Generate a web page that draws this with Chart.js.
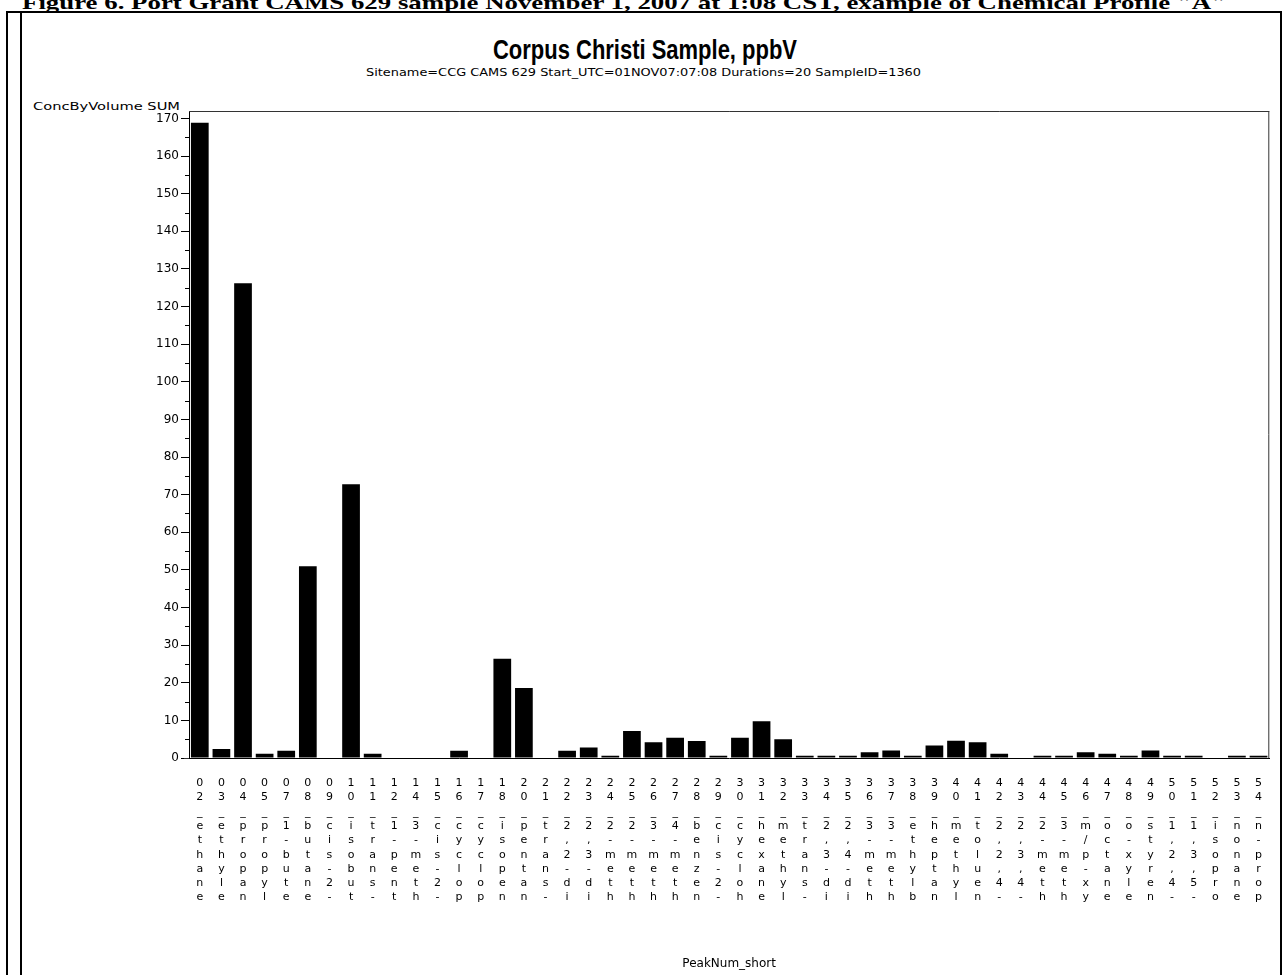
<!DOCTYPE html>
<html><head><meta charset="utf-8">
<script src="https://cdn.jsdelivr.net/npm/chart.js@4.4.0/dist/chart.umd.min.js"></script>
<style>
html,body{margin:0;padding:0;background:#fff;width:1283px;height:975px;overflow:hidden;position:relative}
.t{position:absolute;white-space:nowrap;transform-origin:0 0;color:#000;line-height:1}
#frame{position:absolute;left:6px;top:11px;width:1272px;height:980px;border-top:2px solid #000;border-left:2px solid #000;border-right:2px solid #000}
#inner{position:absolute;left:20px;top:11px;width:2px;height:980px;background:#000}
#wrap{position:absolute;left:22px;top:13px;width:1258px;height:962px}
</style></head>
<body>
<div class="t" id="cap" data-w="1204" style="left:22px;top:-8px;font:bold 19px 'Liberation Serif','Times New Roman',serif;">Figure 6. Port Grant CAMS 629 sample November 1, 2007 at 1:08 CST, example of Chemical Profile "A"</div>
<div id="frame"></div>
<div id="inner"></div>
<div class="t" data-w="304" style="left:493px;top:35px;font:bold 27px 'Liberation Sans',Arial,sans-serif;">Corpus Christi Sample, ppbV</div>
<div class="t" data-w="555" style="left:366px;top:66px;font:11px 'DejaVu Sans',sans-serif;">Sitename=CCG CAMS 629 Start_UTC=01NOV07:07:08 Durations=20 SampleID=1360</div>
<div class="t" data-w="147" style="left:33px;top:100px;font:11px 'DejaVu Sans',sans-serif;">ConcByVolume SUM</div>
<div id="wrap"><canvas id="c" width="1258" height="962"></canvas></div>
<script>
const categories = ["02_ethane","03_ethyle","04_propan","05_propyl","07_1-bute","08_butane","09_cis-2-","10_isobut","11_trans-","12_1-pent","14_3-meth","15_cis-2-","16_cyclop","17_cyclop","18_isopen","20_pentan","21_trans-","22_2,2-di","23_2,3-di","24_2-meth","25_2-meth","26_3-meth","27_4-meth","28_benzen","29_cis-2-","30_cycloh","31_hexane","32_methyl","33_trans-","34_2,3-di","35_2,4-di","36_3-meth","37_3-meth","38_ethylb","39_heptan","40_methyl","41_toluen","42_2,2,4-","43_2,3,4-","44_2-meth","45_3-meth","46_m/p-xy","47_octane","48_o-xyle","49_styren","50_1,2,4-","51_1,3,5-","52_isopro","53_nonane","54_n-prop"];
const concByVolume = [168.9,2.4,126.2,1.1,1.9,51.0,0,72.8,1.1,0,0,0,1.9,0,26.4,18.6,0,1.9,2.8,0.6,7.2,4.2,5.4,4.5,0.6,5.4,9.8,5.0,0.6,0.6,0.6,1.5,2.0,0.6,3.3,4.6,4.2,1.1,0,0.6,0.6,1.5,1.1,0.6,2.0,0.6,0.6,0,0.6,0.6];
const yMin = 0, yMax = 172, yStep = 10;
const minorTickValues = [5,15,25,35,45,55,65,75,85,95,105,115,125,135,145,155,165];

document.querySelectorAll('.t[data-w]').forEach(el=>{
  const w = el.getBoundingClientRect().width;
  el.style.transform = 'scaleX(' + (parseFloat(el.dataset.w)/w) + ')';
});

const framePlugin = {
  id:'frame',
  afterDraw(chart){
    const {ctx, chartArea:a, scales:{y}} = chart;
    ctx.save();
    ctx.strokeStyle = '#333';
    ctx.lineWidth = 1;
    ctx.beginPath();
    ctx.moveTo(a.left, a.top + 0.5); ctx.lineTo(a.right, a.top + 0.5);
    ctx.moveTo(a.right - 0.5, a.top); ctx.lineTo(a.right - 0.5, a.bottom);
    ctx.moveTo(a.left - 5, a.bottom + 0.5); ctx.lineTo(a.left, a.bottom + 0.5);
    ctx.stroke();
    ctx.strokeStyle = '#000';
    ctx.beginPath();
    minorTickValues.forEach(v=>{
      const py = Math.round(y.getPixelForValue(v)) + 0.5;
      ctx.moveTo(a.left - 4, py); ctx.lineTo(a.left, py);
    });
    ctx.stroke();
    ctx.restore();
  }
};

new Chart(document.getElementById('c'), {
  type:'bar',
  data:{labels:categories, datasets:[{data:concByVolume, backgroundColor:'#000', borderColor:'#000', borderWidth:0, barPercentage:0.82, categoryPercentage:1}]},
  options:{
    responsive:false, animation:false,
    layout:{padding:{top:98,right:0,left:0,bottom:0}},
    plugins:{legend:{display:false}, tooltip:{enabled:false}},
    scales:{
      x:{
        grid:{display:false, drawTicks:false},
        border:{display:true, color:'#000', width:1},
        ticks:{autoSkip:false, maxRotation:0, minRotation:0, padding:18, color:'#000',
          font:{family:'DejaVu Sans', size:11, lineHeight:1.3},
          callback(v){ return this.getLabelForValue(v).split(''); }},
        title:{display:true, text:'PeakNum_short', color:'#000', font:{family:'DejaVu Sans', size:12}, padding:{top:0,bottom:4}},
        afterFit(s){ s.height = 217; }
      },
      y:{
        min:yMin, max:yMax,
        grid:{display:true, drawOnChartArea:false, drawTicks:true, tickLength:8, color:'#000', tickColor:'#000'},
        border:{display:true, color:'#000', width:1},
        ticks:{stepSize:yStep, includeBounds:false, padding:2, color:'#000', font:{family:'DejaVu Sans', size:12}},
        afterFit(s){ s.width = 167; }
      }
    }
  },
  plugins:[framePlugin]
});
</script>
</body></html>
